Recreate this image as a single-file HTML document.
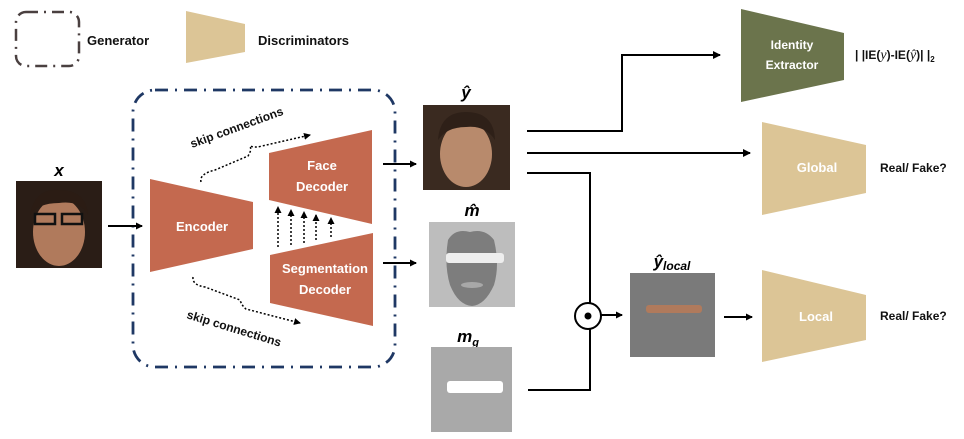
<!DOCTYPE html>
<html><head><style>
html,body{margin:0;padding:0;background:#fff;}
svg{display:block;}
text{font-family:"Liberation Sans",sans-serif;font-weight:bold;}
</style></head><body>
<svg width="964" height="439" viewBox="0 0 964 439" xmlns="http://www.w3.org/2000/svg">
<defs>
<marker id="ah" markerWidth="8" markerHeight="8" refX="7" refY="4" orient="auto" markerUnits="userSpaceOnUse"><path d="M0,0 L8,4 L0,8 z" fill="#000"/></marker>
<marker id="ah2" markerWidth="7" markerHeight="7" refX="6" refY="3.5" orient="auto" markerUnits="userSpaceOnUse"><path d="M0,0 L7,3.5 L0,7 z" fill="#000"/></marker>
</defs>
<!-- legend -->
<rect x="16" y="12" width="63" height="54" rx="10" fill="none" stroke="#4a4040" stroke-width="2.5" stroke-dasharray="12,6,2,6"/>
<text x="87" y="45" font-size="13" fill="#111">Generator</text>
<polygon points="186,11 245,24 245,52 186,63" fill="#dcc596"/>
<text x="258" y="45" font-size="13" fill="#111">Discriminators</text>
<!-- generator box -->
<rect x="133" y="90" width="262" height="277" rx="22" fill="none" stroke="#1f3864" stroke-width="2.8" stroke-dasharray="13,7,2,7"/>
<!-- x image -->
<text x="59" y="176" font-size="17" font-family="Liberation Serif" font-style="italic" text-anchor="middle">x</text>
<rect x="16" y="181" width="86" height="87" fill="#2a1d16"/>
<ellipse cx="59" cy="232" rx="26" ry="34" fill="#b07a5c"/>
<path d="M30,215 Q35,188 59,190 Q86,190 88,215 Q80,200 59,203 Q38,203 30,215z" fill="#2b1c14"/>
<rect x="35" y="214" width="20" height="10" fill="none" stroke="#111" stroke-width="2.5"/>
<rect x="62" y="214" width="20" height="10" fill="none" stroke="#111" stroke-width="2.5"/>
<line x1="108" y1="226" x2="142" y2="226" stroke="#000" stroke-width="2" marker-end="url(#ah2)"/>
<!-- encoder / decoders -->
<polygon points="150,179 253,202 253,249 150,272" fill="#c4694f"/>
<text x="202" y="231" font-size="13" fill="#fff" text-anchor="middle">Encoder</text>
<polygon points="269,153 372,130 372,224 269,200" fill="#c4694f"/>
<text x="322" y="170" font-size="13" fill="#fff" text-anchor="middle">Face</text>
<text x="322" y="191" font-size="13" fill="#fff" text-anchor="middle">Decoder</text>
<polygon points="270,255 373,233 373,326 270,303" fill="#c4694f"/>
<text x="325" y="273" font-size="13" fill="#fff" text-anchor="middle">Segmentation</text>
<text x="325" y="294" font-size="13" fill="#fff" text-anchor="middle">Decoder</text>
<!-- vertical dotted arrows -->
<g stroke="#000" stroke-width="1.5" stroke-dasharray="2,2" fill="none">
<line x1="278" y1="247" x2="278" y2="207" marker-end="url(#ah2)"/>
<line x1="291" y1="245" x2="291" y2="210" marker-end="url(#ah2)"/>
<line x1="304" y1="243" x2="304" y2="212" marker-end="url(#ah2)"/>
<line x1="316" y1="240" x2="316" y2="215" marker-end="url(#ah2)"/>
<line x1="331" y1="237" x2="331" y2="218" marker-end="url(#ah2)"/>
<path d="M201,182 Q199,174 215,170 L248,156 Q252,150 250,146 Q255,148 262,146 L310,135" marker-end="url(#ah2)"/>
<path d="M193,277 Q192,285 205,287 L240,300 Q242,306 246,309 L300,323" marker-end="url(#ah2)"/>
</g>
<text transform="translate(192,148) rotate(-20)" font-size="12" fill="#111">skip connections</text>
<text transform="translate(186,318) rotate(17)" font-size="12" fill="#111">skip connections</text>
<!-- outputs -->
<line x1="383" y1="164" x2="416" y2="164" stroke="#000" stroke-width="2" marker-end="url(#ah2)"/>
<line x1="383" y1="263" x2="416" y2="263" stroke="#000" stroke-width="2" marker-end="url(#ah2)"/>
<text x="466" y="98" font-size="17" font-family="Liberation Serif" font-style="italic" text-anchor="middle">ŷ</text>
<rect x="423" y="105" width="87" height="85" fill="#3a2a20"/>
<ellipse cx="466" cy="154" rx="26" ry="33" fill="#b88a6c"/>
<path d="M438,140 Q440,112 466,112 Q494,112 495,140 Q485,125 466,127 Q447,127 438,140z" fill="#2e2018"/>
<text x="472" y="216" font-size="17" font-family="Liberation Serif" font-style="italic" text-anchor="middle">m̂</text>
<rect x="429" y="222" width="86" height="85" fill="#bdbdbd"/>
<path d="M448,240 Q455,228 470,232 Q485,228 494,240 Q500,265 494,285 Q485,305 472,306 Q458,305 450,285 Q444,265 448,240z" fill="#7d7d7d"/>
<rect x="446" y="253" width="58" height="10" rx="3" fill="#eee"/>
<ellipse cx="472" cy="285" rx="11" ry="3" fill="#a8a8a8"/>
<text x="468" y="342" font-size="17" font-family="Liberation Serif" font-style="italic" text-anchor="middle">m<tspan font-size="11" dy="4">g</tspan></text>
<rect x="431" y="347" width="81" height="85" fill="#a9a9a9"/>
<rect x="447" y="381" width="56" height="12" rx="3" fill="#fff"/>
<!-- lines -->
<g stroke="#000" stroke-width="2" fill="none">
<polyline points="527,131 622,131 622,55 720,55" marker-end="url(#ah)"/>
<line x1="527" y1="153" x2="750" y2="153" marker-end="url(#ah)"/>
<polyline points="527,173 590,173 590,303"/>
<polyline points="528,390 590,390 590,329"/>
<line x1="601" y1="315" x2="622" y2="315" marker-end="url(#ah2)"/>
<line x1="724" y1="317" x2="752" y2="317" marker-end="url(#ah2)"/>
</g>
<circle cx="588" cy="316" r="13" fill="#fff" stroke="#000" stroke-width="2"/>
<circle cx="588" cy="316" r="3.5" fill="#000"/>
<text x="672" y="267" font-size="17" font-family="Liberation Serif" font-style="italic" text-anchor="middle">ŷ<tspan font-size="12" dy="3">local</tspan></text>
<rect x="630" y="273" width="85" height="84" fill="#7a7a7a"/>
<rect x="646" y="305" width="56" height="8" rx="3" fill="#b07a5c"/>
<!-- discriminators -->
<polygon points="741,9 844,33 844,80 741,102" fill="#6b744c"/>
<text x="792" y="49" font-size="12" fill="#fff" text-anchor="middle">Identity</text>
<text x="792" y="69" font-size="12" fill="#fff" text-anchor="middle">Extractor</text>
<text x="855" y="59" font-size="12" fill="#111">| |IE(<tspan font-family="Liberation Serif" font-style="italic" font-weight="normal" font-size="14">y</tspan>)-IE(<tspan font-family="Liberation Serif" font-style="italic" font-weight="normal" font-size="14">ŷ</tspan>)| |<tspan font-size="8" dy="3">2</tspan></text>
<polygon points="762,122 866,145 866,193 762,215" fill="#dcc596"/>
<text x="817" y="172" font-size="13" fill="#fff" text-anchor="middle">Global</text>
<text x="880" y="172" font-size="12" fill="#111">Real/ Fake?</text>
<polygon points="762,270 866,295 866,340 762,362" fill="#dcc596"/>
<text x="816" y="321" font-size="13" fill="#fff" text-anchor="middle">Local</text>
<text x="880" y="320" font-size="12" fill="#111">Real/ Fake?</text>
</svg>
</body></html>
